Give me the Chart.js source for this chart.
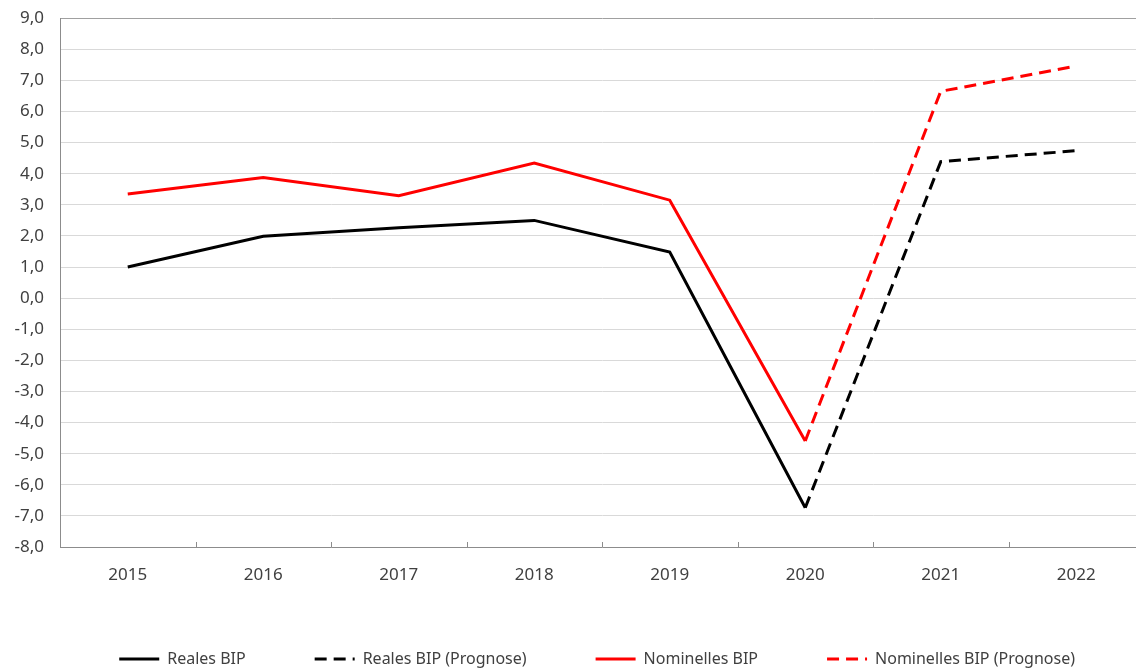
<!DOCTYPE html>
<html>
<head>
<meta charset="utf-8">
<script src="https://cdn.jsdelivr.net/npm/chart.js@4/dist/chart.umd.min.js"></script>
<style>
  html, body { margin: 0; padding: 0; background: #fff; overflow: hidden; }
  /* the plot runs a little past the right edge of the window, as in the original */
  #wrap { width: 1144px; height: 685px; position: relative; top: -8px; }
</style>
</head>
<body>
<div id="wrap"><canvas id="bip"></canvas></div>
<script>
const years = ['2015', '2016', '2017', '2018', '2019', '2020', '2021', '2022'];
const realesBip = [1.0, 1.99, 2.26, 2.5, 1.48, -6.74, null, null];
const realesPrognose = [null, null, null, null, null, -6.74, 4.39, 4.74];
const nominellesBip = [3.35, 3.88, 3.29, 4.34, 3.15, -4.59, null, null];
const nominellesPrognose = [null, null, null, null, null, -4.59, 6.65, 7.46];

const textColor = '#404040';
const gridColor = '#d9d9d9';
const axisColor = '#8c8c8c';
const fontFamily = "'Noto Sans', 'Open Sans', sans-serif";

// small inward tick marks between categories, like the original axis
const innerTicks = {
  id: 'innerTicks',
  afterDraw(chart) {
    const x = chart.scales.x;
    const bottom = chart.chartArea.bottom;
    const ctx = chart.ctx;
    ctx.save();
    ctx.strokeStyle = axisColor;
    ctx.lineWidth = 1;
    for (let i = 1; i < years.length; i++) {
      const px = Math.round((x.getPixelForValue(i - 1) + x.getPixelForValue(i)) / 2) + 0.5;
      ctx.beginPath();
      ctx.moveTo(px, bottom - 5);
      ctx.lineTo(px, bottom);
      ctx.stroke();
    }
    ctx.restore();
  },
};

function lineSet(label, data, color, dashed) {
  return {
    label,
    data,
    borderColor: color,
    backgroundColor: color,
    borderWidth: 3,
    borderDash: dashed ? [12, 7] : [],
    pointRadius: 0,
    pointStyle: 'line',
    tension: 0,
    spanGaps: false,
    fill: false,
  };
}

new Chart(document.getElementById('bip'), {
  type: 'line',
  data: {
    labels: years,
    datasets: [
      lineSet('Reales BIP', realesBip, '#000000', false),
      lineSet('Reales BIP (Prognose)', realesPrognose, '#000000', true),
      lineSet('Nominelles BIP', nominellesBip, '#ff0000', false),
      lineSet('Nominelles BIP (Prognose)', nominellesPrognose, '#ff0000', true),
    ],
  },
  options: {
    responsive: true,
    maintainAspectRatio: false,
    animation: false,
    layout: { padding: { top: 9, right: 0, left: 0, bottom: 0 } },
    plugins: {
      tooltip: { enabled: false },
      legend: {
        position: 'bottom',
        align: 'end',
        labels: {
          color: textColor,
          font: { family: fontFamily, size: 16 },
          usePointStyle: true,
          pointStyleWidth: 40,
          boxHeight: 16,
          padding: 69,
          generateLabels(chart) {
            const items = Chart.defaults.plugins.legend.labels.generateLabels(chart);
            items.forEach(it => {
              const ds = chart.data.datasets[it.datasetIndex];
              it.lineDash = ds.borderDash;
              it.lineWidth = 3;
              it.strokeStyle = ds.borderColor;
            });
            return items;
          },
        },
      },
    },
    scales: {
      x: {
        offset: true,
        grid: { display: true, offset: true, drawOnChartArea: false, drawTicks: false },
        border: { display: true, color: axisColor, width: 1 },
        ticks: { color: textColor, font: { family: fontFamily, size: 17 }, padding: 18, maxRotation: 0 },
        afterFit(scale) { scale.height = 35; },
      },
      y: {
        min: -8,
        max: 9,
        grid: {
          color: (c) => (c.tick && c.tick.value === 9 ? '#a0a0a0' : gridColor),
          lineWidth: 1,
          drawTicks: false,
        },
        border: { display: true, color: axisColor, width: 1 },
        ticks: {
          stepSize: 1,
          color: textColor,
          font: { family: fontFamily, size: 17 },
          padding: 16,
          callback: (v) => v.toFixed(1).replace('.', ','),
        },
        afterFit(scale) { scale.width = 60; },
      },
    },
  },
  plugins: [innerTicks],
});
</script>
</body>
</html>
